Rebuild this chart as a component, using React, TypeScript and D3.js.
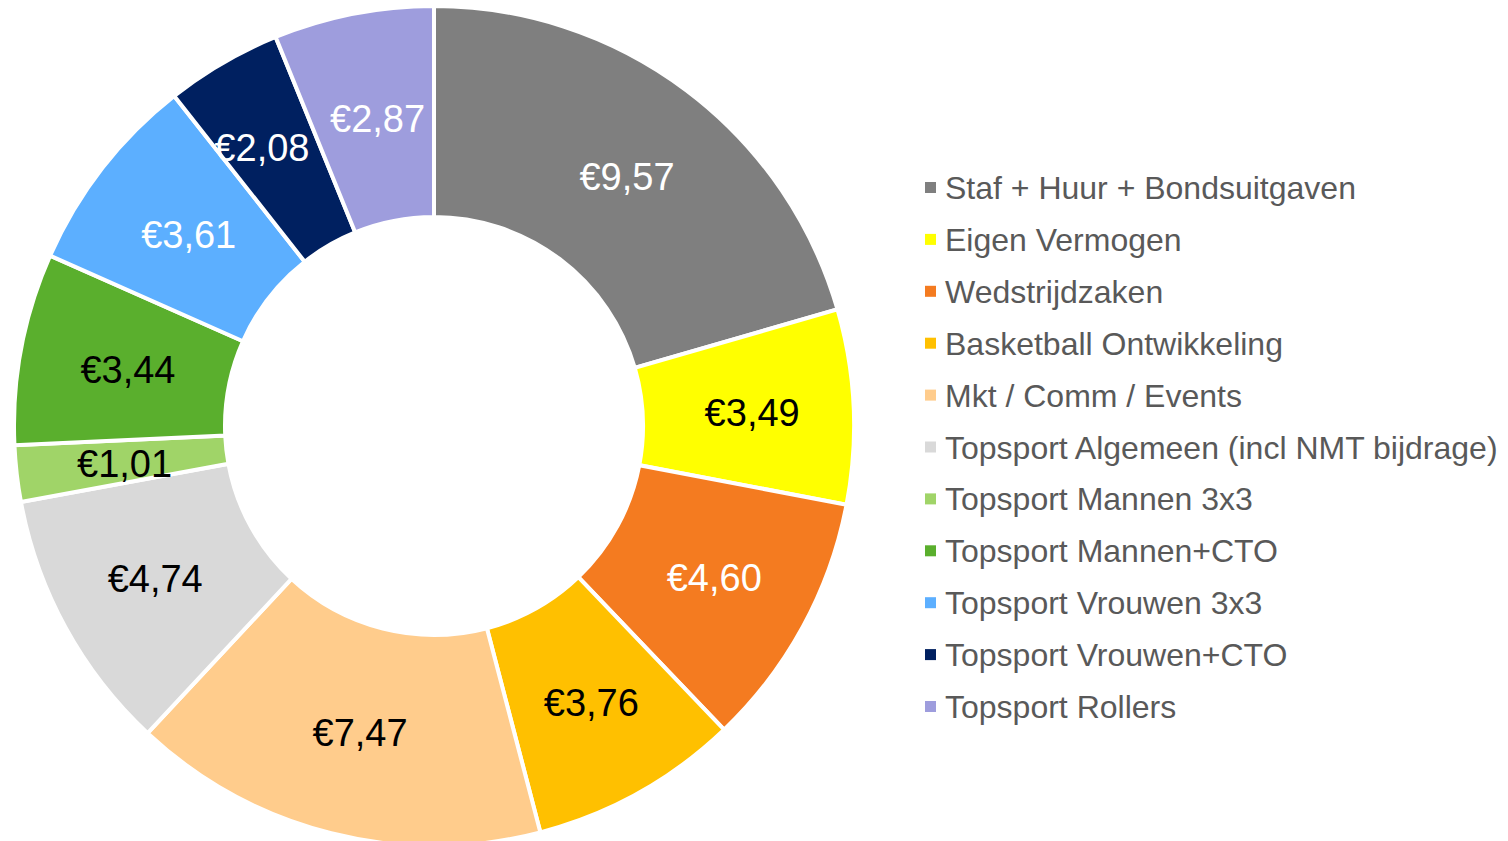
import React from "react";
import * as d3 from "d3";

const categories = [
  "Staf + Huur + Bondsuitgaven",
  "Eigen Vermogen",
  "Wedstrijdzaken",
  "Basketball Ontwikkeling",
  "Mkt / Comm / Events",
  "Topsport Algemeen (incl NMT bijdrage)",
  "Topsport Mannen 3x3",
  "Topsport Mannen+CTO",
  "Topsport Vrouwen 3x3",
  "Topsport Vrouwen+CTO",
  "Topsport Rollers",
];
const values = [9.57, 3.49, 4.6, 3.76, 7.47, 4.74, 1.01, 3.44, 3.61, 2.08, 2.87];
const colors = [
  "#7F7F7F", "#FFFF00", "#F47B20", "#FFC000", "#FFCC8C", "#D9D9D9",
  "#A0D468", "#5AAF2D", "#5CAFFF", "#002060", "#9E9DDD",
];
const labelColors = [
  "#FFFFFF", "#000000", "#FFFFFF", "#000000", "#000000", "#000000",
  "#000000", "#000000", "#FFFFFF", "#FFFFFF", "#FFFFFF",
];

// layout-only nudges (pixels) relative to the ring centroid
const labelNudge: [number, number][] = [
  [4, 2], [4, 2], [4, 2], [4, 2], [3, 2], [-3, 2], [3, 2], [3, 2], [3, 2], [-14, -6], [4, 2],
];

const W = 1508;
const H = 841;
const cx = 434;
const cy = 426;
const outerR = 420;
const innerR = 209;

const fmt = (v: number) => "€" + v.toFixed(2).replace(".", ",");

export default function App() {
  const pie = d3.pie<number>().sort(null).value((d) => d)(values);
  const arc = d3.arc<d3.PieArcDatum<number>>().innerRadius(innerR).outerRadius(outerR);
  const labelArc = d3
    .arc<d3.PieArcDatum<number>>()
    .innerRadius((innerR + outerR) / 2)
    .outerRadius((innerR + outerR) / 2);

  const legendY = d3.scaleLinear().domain([0, categories.length - 1]).range([188, 707]);

  return (
    <svg
      width={W}
      height={H}
      style={{ position: "absolute", left: 0, top: 0, background: "#fff" }}
      fontFamily="'Liberation Sans', Arial, sans-serif"
    >
      <g transform={`translate(${cx},${cy})`}>
        {pie.map((p, i) => (
          <path key={i} d={arc(p) || ""} fill={colors[i]} stroke="#fff" strokeWidth={4} strokeLinejoin="miter" />
        ))}
        {pie.map((p, i) => {
          const [x, y] = labelArc.centroid(p);
          return (
            <text
              key={"l" + i}
              x={x + labelNudge[i][0]}
              y={y + labelNudge[i][1]}
              textAnchor="middle"
              dominantBaseline="central"
              fontSize={38}
              fill={labelColors[i]}
            >
              {fmt(values[i])}
            </text>
          );
        })}
      </g>
      <g>
        {categories.map((c, i) => (
          <g key={c} transform={`translate(925,${legendY(i)})`}>
            <rect x={0} y={-6} width={11} height={11} fill={colors[i]} />
            <text x={20} y={0} dominantBaseline="central" fontSize={32} fill="#595959">
              {c}
            </text>
          </g>
        ))}
      </g>
    </svg>
  );
}
